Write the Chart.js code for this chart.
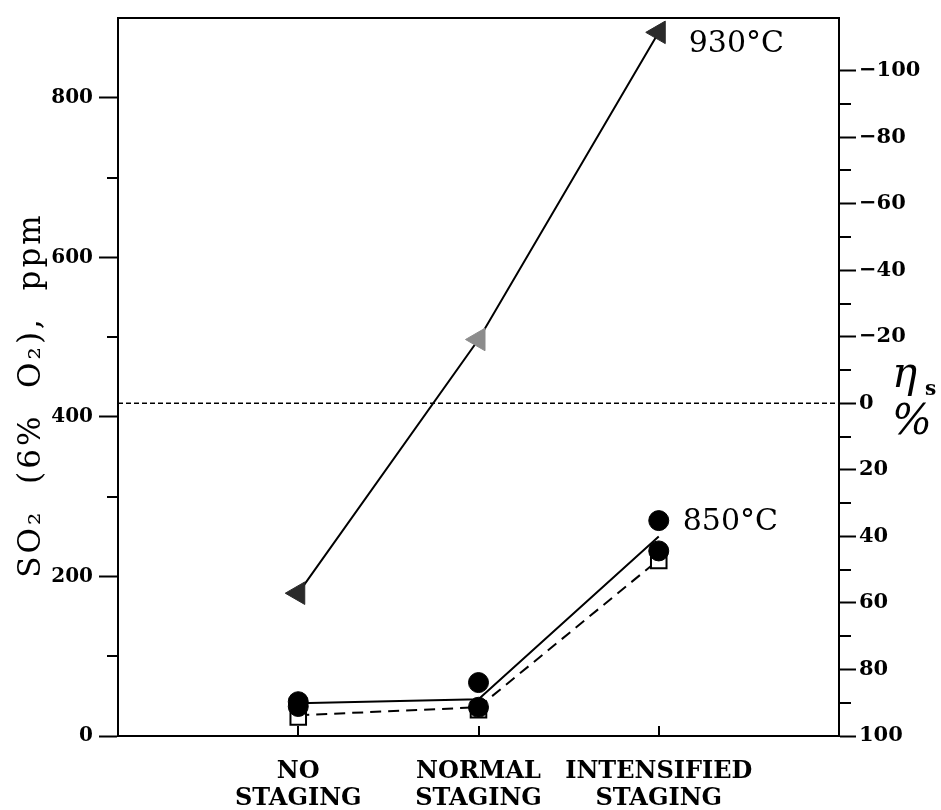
<!DOCTYPE html>
<html>
<head>
<meta charset="utf-8">
<script src="https://cdn.jsdelivr.net/npm/chart.js@4.4.1/dist/chart.umd.min.js"></script>
<style>
  html, body { margin: 0; padding: 0; background: #fff; }
  #chart { display: block; }
</style>
</head>
<body>
<canvas id="chart" width="941" height="810"></canvas>
<script>
// categories along the bottom
const CATEGORIES = [["NO", "STAGING"], ["NORMAL", "STAGING"], ["INTENSIFIED", "STAGING"]];
const CATEGORY_X = [1, 2, 3];

// SO2 (ppm)
const SO2_930 = [179, 497, 882];
const SO2_850_SOLID = [41, 46, 250];
const SO2_850_DASHED = [26, 36, 221];
const CIRCLE_X = [1, 1, 2, 2, 3, 3];
const CIRCLE_SO2 = [43, 37, 67, 36, 270, 232];
const SQUARE_SO2 = [24, 33, 220];

// axis ticks
const SO2_TICKS = [0, 200, 400, 600, 800];
const SO2_MINOR = [100, 300, 500, 700];
const ETA_TICKS = [-100, -80, -60, -40, -20, 0, 20, 40, 60, 80, 100];
const ETA_MINOR = [-90, -70, -50, -30, -10, 10, 30, 50, 70, 90];
const SO2_MAX = 900;
const SO2_AT_ETA_ZERO = 417;
const ETA_ZERO = [0, 0];
const ETA_ZERO_X = [0, 4];

const TRIANGLE_COLORS = ["#2a2a2a", "#8c8c8c", "#2a2a2a"];

function points(xs, ys) {
  return ys.map((y, i) => ({ x: xs[i], y: y }));
}

function etaLabel(v) {
  return v < 0 ? "\u2212" + (-v) : String(v);
}

const decor = {
  id: "decor",
  afterDraw(chart) {
    const ctx = chart.ctx;
    const a = chart.chartArea;
    const yS = chart.scales.y;
    const eS = chart.scales.eta;
    const xS = chart.scales.x;
    ctx.save();
    ctx.strokeStyle = "#000";
    ctx.lineWidth = 2;

    // top border of the frame
    ctx.beginPath();
    ctx.moveTo(a.left, a.top);
    ctx.lineTo(a.right, a.top);
    ctx.stroke();

    // minor ticks
    ctx.beginPath();
    for (const v of SO2_MINOR) {
      const py = Math.round(yS.getPixelForValue(v));
      ctx.moveTo(a.left - 11, py);
      ctx.lineTo(a.left, py);
    }
    for (const v of ETA_MINOR) {
      const py = Math.round(eS.getPixelForValue(v));
      ctx.moveTo(a.right, py);
      ctx.lineTo(a.right + 12, py);
    }
    // small inward ticks at the categories
    for (const v of CATEGORY_X) {
      const px = Math.round(xS.getPixelForValue(v));
      ctx.moveTo(px, a.bottom);
      ctx.lineTo(px, a.bottom - 10);
    }
    ctx.stroke();

    ctx.fillStyle = "#000";
    ctx.textBaseline = "middle";

    // left axis title
    ctx.save();
    ctx.translate(32, 395);
    ctx.rotate(-Math.PI / 2);
    ctx.font = "31px 'DejaVu Serif'";
    ctx.letterSpacing = "3px";
    ctx.textAlign = "center";
    ctx.fillText("SO\u2082  (6%  O\u2082),  ppm", 0, 0);
    ctx.restore();

    // right axis title
    ctx.textAlign = "left";
    ctx.font = "italic 42px 'DejaVu Serif'";
    ctx.fillText("\u03b7", 892, 376);
    ctx.font = "bold 20px 'DejaVu Serif'";
    ctx.fillText("s", 925, 390);
    ctx.font = "italic 42px 'DejaVu Serif'";
    ctx.fillText("%", 892, 423);

    // series labels
    ctx.font = "30px 'DejaVu Serif'";
    const p930 = chart.getDatasetMeta(2).data[2];
    ctx.fillText("930\u00b0C", p930.x + 30, p930.y + 12);
    const p850 = chart.getDatasetMeta(0).data[4];
    ctx.fillText("850\u00b0C", p850.x + 24, p850.y + 2);
    ctx.restore();
  }
};

new Chart("chart", {
  type: "line",
  data: {
    datasets: [
      {
        data: points(CIRCLE_X, CIRCLE_SO2),
        showLine: false,
        pointStyle: "circle",
        pointRadius: 10,
        pointBackgroundColor: "#000",
        pointBorderColor: "#000",
        pointBorderWidth: 1
      },
      {
        data: points(CATEGORY_X, SQUARE_SO2),
        showLine: false,
        pointStyle: "rect",
        pointRadius: 11,
        pointBackgroundColor: "#fff",
        pointBorderColor: "#000",
        pointBorderWidth: 2
      },
      {
        data: points(CATEGORY_X, SO2_930),
        borderColor: "#000",
        borderWidth: 2,
        pointStyle: "triangle",
        pointRotation: -90,
        pointRadius: 13,
        pointBackgroundColor: TRIANGLE_COLORS,
        pointBorderColor: TRIANGLE_COLORS,
        pointBorderWidth: 1
      },
      {
        data: points(CATEGORY_X, SO2_850_SOLID),
        borderColor: "#000",
        borderWidth: 2,
        pointRadius: 0
      },
      {
        data: points(CATEGORY_X, SO2_850_DASHED),
        borderColor: "#000",
        borderWidth: 2,
        borderDash: [11, 7],
        pointRadius: 0
      },
      {
        data: points(ETA_ZERO_X, ETA_ZERO),
        yAxisID: "eta",
        borderColor: "#000",
        borderWidth: 1.5,
        borderDash: [5, 3],
        pointRadius: 0
      }
    ]
  },
  options: {
    responsive: false,
    animation: false,
    events: [],
    layout: { padding: { top: 12, left: 0, right: 0, bottom: 0 } },
    plugins: { legend: { display: false }, tooltip: { enabled: false } },
    scales: {
      x: {
        type: "linear",
        min: 0,
        max: 4,
        afterBuildTicks: s => { s.ticks = CATEGORY_X.map(v => ({ value: v })); },
        afterFit: s => { s.height = 74; },
        grid: { drawOnChartArea: false, drawTicks: false },
        border: { color: "#000", width: 2 },
        ticks: {
          autoSkip: false,
          maxRotation: 0,
          padding: 23,
          color: "#000",
          font: { family: "'DejaVu Serif'", size: 24, weight: "bold", lineHeight: 1.1 },
          callback: v => CATEGORIES[CATEGORY_X.indexOf(v)]
        }
      },
      y: {
        position: "left",
        min: 0,
        max: SO2_MAX,
        afterBuildTicks: s => { s.ticks = SO2_TICKS.map(v => ({ value: v })); },
        afterFit: s => { s.width = 118; },
        grid: { drawOnChartArea: false, tickLength: 19, tickColor: "#000", tickWidth: 2 },
        border: { color: "#000", width: 2 },
        ticks: {
          padding: 6,
          color: "#000",
          font: { family: "'DejaVu Serif'", size: 20, weight: "bold" }
        }
      },
      eta: {
        position: "right",
        reverse: true,
        min: 100 * (1 - SO2_MAX / SO2_AT_ETA_ZERO),
        max: 100,
        afterBuildTicks: s => { s.ticks = ETA_TICKS.map(v => ({ value: v })); },
        afterFit: s => { s.width = 102; },
        grid: { drawOnChartArea: false, tickLength: 17, tickColor: "#000", tickWidth: 2 },
        border: { color: "#000", width: 2 },
        ticks: {
          padding: 3,
          color: "#000",
          font: { family: "'DejaVu Serif'", size: 21, weight: "bold" },
          callback: v => etaLabel(v)
        }
      }
    }
  },
  plugins: [decor]
});
</script>
</body>
</html>
